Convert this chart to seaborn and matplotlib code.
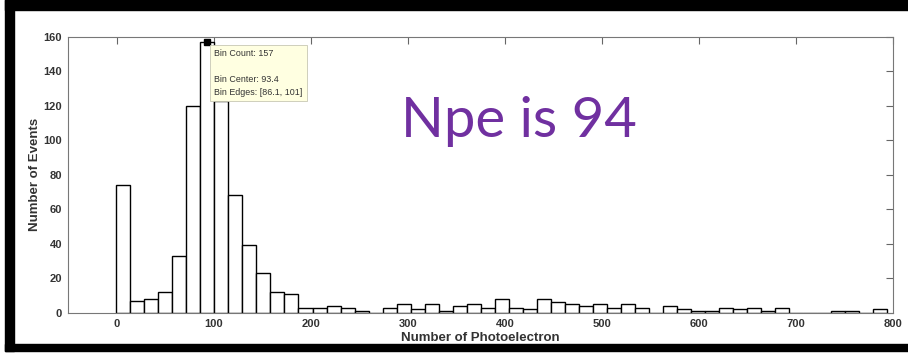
import numpy as np
import pandas as pd
import matplotlib
matplotlib.use("Agg")
import matplotlib.pyplot as plt
from matplotlib.patches import Rectangle
import seaborn as sns

# ---- data ----
counts = [74, 7, 8, 12, 33, 120, 157, 123, 68, 39,
          23, 12, 11, 3, 3, 4, 3, 1, 0, 3,
          5, 2, 5, 1, 4, 5, 3, 8, 3, 2,
          8, 6, 5, 4, 5, 3, 5, 3, 0, 4,
          2, 1, 1, 3, 2, 3, 1, 3, 0, 0,
          0, 1, 1, 0, 2]
bin_start = -0.6
bin_width = 14.45
x_ticks = [0, 100, 200, 300, 400, 500, 600, 700, 800]
y_ticks = [0, 20, 40, 60, 80, 100, 120, 140, 160]
tip_lines = ["Bin Count: 157", "", "Bin Center: 93.4", "Bin Edges: [86.1, 101]"]
tip_point = (93.4, 157)
annotation = "Npe is 94"

edges = [float(bin_start + bin_width * i) for i in range(len(counts) + 1)]
centers = [(edges[i] + edges[i + 1]) / 2 for i in range(len(counts))]
df = pd.DataFrame({"npe": centers, "n": [float(c) for c in counts]})

sns.set_style("white")
plt.rcParams["font.family"] = ["Liberation Sans", "DejaVu Sans"]

fig = plt.figure(figsize=(9.08, 3.55), dpi=100)
ax = fig.add_axes([68.3 / 908, 1 - 312.7 / 355, (893 - 68.3) / 908, (312.7 - 36.7) / 355])

sns.histplot(data=df, x="npe", weights="n", bins=edges, ax=ax,
             stat="count", element="bars", fill=True,
             color="white", edgecolor="black", linewidth=1.0, alpha=1.0)

ax.set_xlim(-50, 800)
ax.set_ylim(0, 160)
ax.set_xticks(x_ticks)
ax.set_yticks(y_ticks)
ax.tick_params(axis="both", direction="in", length=5, width=0.8,
               colors="#666666", labelcolor="#333333", labelsize=8,
               top=True, right=True, pad=4.5)
for lab in ax.get_xticklabels() + ax.get_yticklabels():
    lab.set_fontweight("bold")
for sp in ax.spines.values():
    sp.set_color("#777777")
    sp.set_linewidth(0.8)

ax.set_xlabel("Number of Photoelectron", fontsize=9.5, fontweight="bold", color="#333333", labelpad=2)
ax.set_ylabel("Number of Events", fontsize=9.5, fontweight="bold", color="#333333", labelpad=2)

# data tip
ax.plot([tip_point[0]], [tip_point[1]], marker="s", color="black", ms=4, zorder=5)
ax.text(100.5, 153.0, "\n".join(tip_lines), fontsize=6.4, linespacing=1.6,
        va="top", ha="left", color="#333333", zorder=6,
        bbox=dict(boxstyle="square,pad=0.45", fc="#FFFFE1", ec="#C8C8B4", lw=0.6))

# big purple annotation
fig.text(401 / 908, 1 - 137 / 355, annotation, fontsize=40.5, color="#7030A0",
         family=["Lato", "DejaVu Sans"], ha="left", va="baseline")

# black slide frame
fig.patches.append(Rectangle((5 / 908, 1 - 10 / 355), 1, 10 / 355, transform=fig.transFigure,
                             color="black", zorder=10))
fig.patches.append(Rectangle((5 / 908, 4 / 355), 1, 7 / 355, transform=fig.transFigure,
                             color="black", zorder=10))
fig.patches.append(Rectangle((5 / 908, 4 / 355), 9 / 908, 1, transform=fig.transFigure,
                             color="black", zorder=10))

fig.savefig("out.png", dpi=100)
